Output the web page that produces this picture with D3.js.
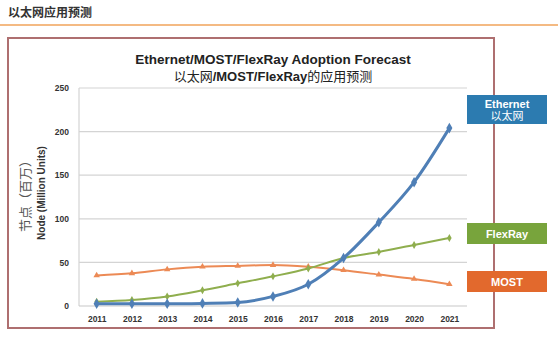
<!DOCTYPE html>
<html lang="zh">
<head>
  <meta charset="utf-8">
  <title>以太网应用预测</title>
  <script src="https://d3js.org/d3.v7.min.js"></script>
  <style>
    body { margin: 0; background: #fff; }
    svg text { font-family: "Liberation Sans", Arial, "Noto Sans CJK SC", sans-serif; }
  </style>
</head>
<body>
<script>
  // data (million units)
  const years = ["2011","2012","2013","2014","2015","2016","2017","2018","2019","2020","2021"];
  const ethernet = [2.5, 2.5, 2.5, 3, 4, 11, 25, 55, 96, 142, 204];
  const flexray  = [5, 7, 11, 18, 26, 34, 43, 55, 62, 70, 78];
  const most     = [35, 37.5, 42, 45, 46, 47, 45, 41, 36, 31, 25];
  const yTicks = [0, 50, 100, 150, 200, 250];

  const width = 558, height = 349;
  const svg = d3.select("body").append("svg")
    .attr("width", width)
    .attr("height", height);

  // page header
  svg.append("text")
    .attr("x", 8).attr("y", 17)
    .attr("font-size", 12).attr("font-weight", "bold")
    .attr("fill", "#333")
    .text("以太网应用预测");
  svg.append("line")
    .attr("x1", 0).attr("x2", width)
    .attr("y1", 25).attr("y2", 25)
    .attr("stroke", "#f0a35a").attr("stroke-width", 1.5);

  // frame
  svg.append("rect")
    .attr("x", 8).attr("y", 38)
    .attr("width", 486).attr("height", 290)
    .attr("fill", "#fff")
    .attr("stroke", "#ae6f70").attr("stroke-width", 2);

  // titles
  svg.append("text")
    .attr("x", 273).attr("y", 64)
    .attr("text-anchor", "middle")
    .attr("font-size", 13.5).attr("font-weight", "bold").attr("fill", "#222")
    .text("Ethernet/MOST/FlexRay Adoption Forecast");
  const t2 = svg.append("text")
    .attr("x", 273).attr("y", 81)
    .attr("text-anchor", "middle")
    .attr("font-size", 13).attr("fill", "#222");
  t2.append("tspan").text("以太网");
  t2.append("tspan").attr("font-weight", "bold").text("/MOST/FlexRay");
  t2.append("tspan").text("的应用预测");

  const x = d3.scalePoint().domain(years).range([79, 467]).padding(0.5);
  const y = d3.scaleLinear().domain([0, 250]).range([306, 88]);

  // grid
  svg.append("g")
    .selectAll("line")
    .data(yTicks.filter(d => d > 0))
    .enter().append("line")
    .attr("x1", 79).attr("x2", 467)
    .attr("y1", d => y(d)).attr("y2", d => y(d))
    .attr("stroke", "#d4d4d4").attr("stroke-width", 1.2);
  svg.append("line")
    .attr("x1", 79).attr("x2", 79).attr("y1", y(250)).attr("y2", y(0))
    .attr("stroke", "#d4d4d4").attr("stroke-width", 1.2);

  // axes
  const yAxis = svg.append("g")
    .attr("transform", "translate(79,0)")
    .call(d3.axisLeft(y).tickValues(yTicks).tickSize(0).tickPadding(10));
  yAxis.select(".domain").remove();
  yAxis.selectAll("text")
    .attr("font-size", 8.5).attr("font-weight", "bold").attr("fill", "#333");

  const xAxis = svg.append("g")
    .attr("transform", "translate(0,306)")
    .call(d3.axisBottom(x).tickSize(0).tickPadding(10));
  xAxis.select(".domain").attr("stroke", "#c8c8c8").attr("stroke-width", 1.2)
    .attr("d", "M79,0H467");
  xAxis.selectAll("text")
    .attr("font-size", 8.5).attr("font-weight", "bold").attr("fill", "#333");

  // y axis title
  const yt = svg.append("g").attr("transform", "translate(0,193) rotate(-90)");
  yt.append("text")
    .attr("x", 0).attr("y", 30)
    .attr("text-anchor", "middle")
    .attr("font-size", 13).attr("fill", "#555")
    .text("节点（百万）");
  yt.append("text")
    .attr("x", 0).attr("y", 45)
    .attr("text-anchor", "middle")
    .attr("font-size", 10).attr("font-weight", "bold").attr("fill", "#333")
    .text("Node (Million Units)");

  const series = [
    { name: "MOST", values: most, color: "#ec8a55", width: 2, symbol: d3.symbolTriangle, size: 18 },
    { name: "FlexRay", values: flexray, color: "#8fae4e", width: 2, symbol: d3.symbolDiamond, size: 18 },
    { name: "Ethernet", values: ethernet, color: "#4f7fb6", width: 3, symbol: d3.symbolDiamond, size: 32 }
  ];

  const line = d3.line()
    .x((d, i) => x(years[i]))
    .y(d => y(d))
    .curve(d3.curveMonotoneX);

  series.forEach(s => {
    svg.append("path")
      .datum(s.values)
      .attr("fill", "none")
      .attr("stroke", s.color)
      .attr("stroke-width", s.width)
      .attr("d", line);
    svg.append("g").selectAll("path")
      .data(s.values)
      .enter().append("path")
      .attr("transform", (d, i) => `translate(${x(years[i])},${y(d)})`)
      .attr("d", d3.symbol().type(s.symbol).size(s.size))
      .attr("fill", s.color);
  });

  // legend boxes
  const legend = [
    { lines: ["Ethernet", "以太网"], color: "#2c7bb0", y: 95, h: 29 },
    { lines: ["FlexRay"], color: "#78a43c", y: 223, h: 21 },
    { lines: ["MOST"], color: "#e2692d", y: 271, h: 21 }
  ];
  const lg = svg.append("g").selectAll("g")
    .data(legend)
    .enter().append("g");
  lg.append("rect")
    .attr("x", 467).attr("y", d => d.y)
    .attr("width", 80).attr("height", d => d.h)
    .attr("fill", d => d.color);
  lg.each(function(d) {
    const g = d3.select(this);
    const n = d.lines.length;
    d.lines.forEach((t, i) => {
      g.append("text")
        .attr("x", 507)
        .attr("y", d.y + d.h / 2 + (i - (n - 1) / 2) * 12 + 4)
        .attr("text-anchor", "middle")
        .attr("font-size", 11).attr("font-weight", i === 0 ? "bold" : "normal")
        .attr("fill", "#fff")
        .text(t);
    });
  });
</script>
</body>
</html>
